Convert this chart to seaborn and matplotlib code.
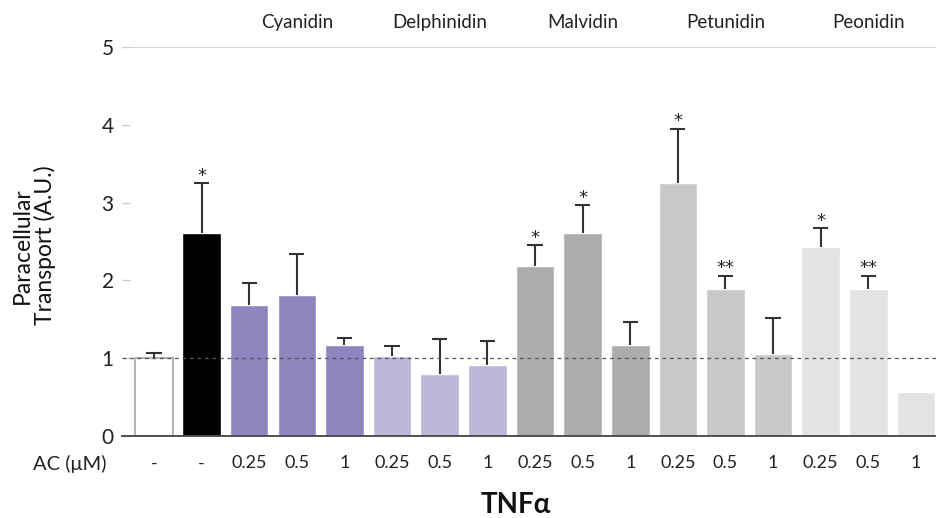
import matplotlib
matplotlib.use("Agg")
import matplotlib.pyplot as plt
import seaborn as sns
import pandas as pd
import numpy as np

# ---- data ----
ac_labels = ["-", "-", "0.25", "0.5", "1", "0.25", "0.5", "1", "0.25", "0.5", "1",
             "0.25", "0.5", "1", "0.25", "0.5", "1"]
values = [1.00, 2.61, 1.68, 1.81, 1.17, 1.03, 0.80, 0.91, 2.19, 2.61, 1.17,
          3.25, 1.89, 1.05, 2.43, 1.89, 0.57]
errors = [0.07, 0.64, 0.29, 0.53, 0.09, 0.13, 0.45, 0.31, 0.26, 0.36, 0.30,
          0.70, 0.17, 0.47, 0.24, 0.17, 0.0]
signif = ["", "*", "", "", "", "", "", "", "*", "*", "", "*", "**", "", "*", "**", ""]
bar_colors = ["#ffffff", "#000000",
              "#8f86bf", "#8f86bf", "#8f86bf",
              "#bcb7d9", "#bcb7d9", "#bcb7d9",
              "#acacae", "#acacae", "#acacae",
              "#c8c8ca", "#c8c8ca", "#c8c8ca",
              "#e3e3e3", "#e3e3e3", "#e3e3e3"]
groups = ["Cyanidin", "Delphinidin", "Malvidin", "Petunidin", "Peonidin"]
yticks = [0, 1, 2, 3, 4, 5]

sns.set_theme(style="white")
plt.rcParams['font.family'] = ['Lato', 'DejaVu Sans']

df = pd.DataFrame({"pos": list(range(len(values))), "value": values})

fig = plt.figure(figsize=(9.36, 5.18), dpi=100)
ax = fig.add_axes([122/936, (518-436)/518, 1 - 122/936, (436-47)/518])

sns.barplot(data=df, x="pos", y="value", hue="pos", palette=bar_colors,
            legend=False, width=0.81, ax=ax, saturation=1, errorbar=None)

# white bar edge
ax.patches[0].set_edgecolor("#b5b5b5")
ax.patches[0].set_linewidth(1.5)

# upper error bars (stem + top cap only)
x = np.arange(len(values))
v = np.array(values)
e = np.array(errors)
mask = e > 0
ecol = "#333333"
ax.vlines(x[mask], v[mask], v[mask] + e[mask], colors=ecol, lw=1.5, zorder=3)
ax.hlines(v[mask] + e[mask], x[mask] - 0.16, x[mask] + 0.16, colors=ecol,
          lw=1.5, zorder=3)

for xi, vi, ei, s in zip(x, v, e, signif):
    if s:
        ax.text(xi, vi + ei + 0.03, s, ha="center", va="baseline", fontsize=13,
                color="#222222", family="DejaVu Sans")

# reference line at 1
ax.axhline(1, color="#555555", lw=0.9, ls=(0, (3, 3)), zorder=4)
# top grid line at 5
ax.axhline(5, color="#d0d0d0", lw=1.3, zorder=0)

ax.set_ylim(0, 5)
ax.set_xlim(-0.67, 16.42)
ax.set_yticks(yticks)
ax.set_yticklabels([str(t) for t in yticks], fontsize=15, color="#222222")
ax.set_xticks(x)
ax.set_xticklabels(ac_labels, fontsize=13, color="#222222")
ax.tick_params(axis="y", direction="in", length=6, width=1, color="#cccccc",
               pad=6, left=True)
ax.tick_params(axis="x", length=0, pad=14)

for side in ["top", "right", "left"]:
    ax.spines[side].set_visible(False)
ax.spines["bottom"].set_color("#444444")
ax.spines["bottom"].set_linewidth(1.3)

ax.set_xlabel("")
ax.set_ylabel("Paracellular\nTransport (A.U.)", fontsize=16.5, color="#111111",
              linespacing=1.05)
ax.yaxis.set_label_coords(-0.081, 0.49)

# group labels above
for i, g in enumerate(groups):
    cx = 3 + 3 * i
    ax.text(cx, 5.2, g, ha="center", va="bottom", fontsize=13.5,
            color="#222222", clip_on=False)

fig.text(70/936, 1 - 464/518, "AC (\u03bcM)", ha="center", va="center",
         fontsize=14.5, color="#222222")
fig.text(516/936, 1 - 505/518, "TNF\u03b1", ha="center", va="center",
         fontsize=20, fontweight="bold", color="#111111")

fig.savefig("out.png", dpi=100)
